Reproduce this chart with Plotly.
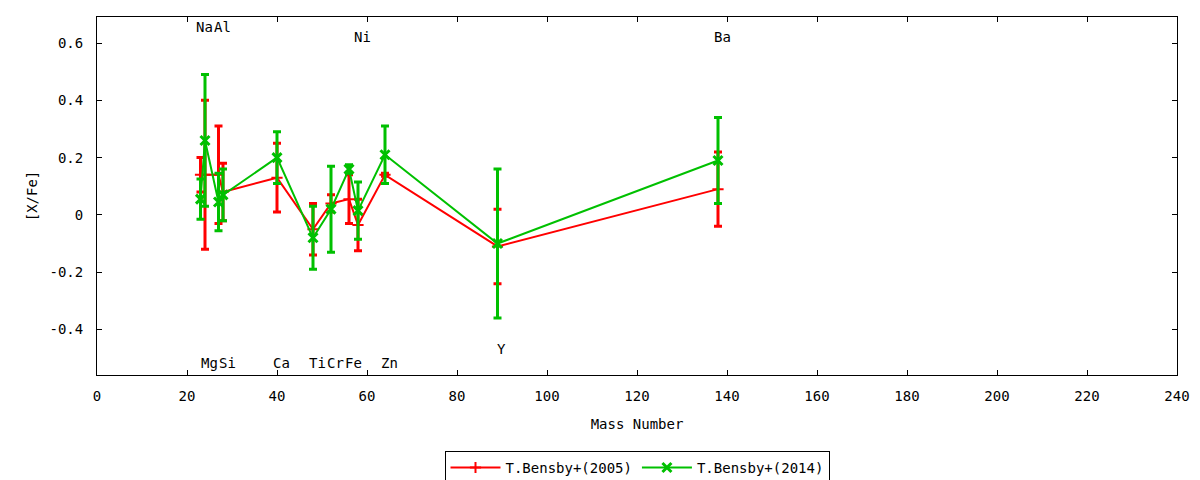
import plotly.graph_objects as go

# element, mass number, [X/Fe] values
elements = ["Na", "Mg", "Al", "Si", "Ca", "Ti", "Cr", "Fe", "Ni", "Zn", "Y", "Ba"]
mass = [23, 24, 27, 28, 40, 48, 52, 56, 58, 64, 89, 138]

bensby2005 = [0.14, 0.14, 0.14, 0.08, 0.13, -0.05, 0.04, 0.055, -0.035, 0.14, -0.11, 0.09]
bensby2005_err = [0.06, 0.26, 0.17, 0.10, 0.12, 0.09, 0.03, 0.085, 0.09, 0.005, 0.13, 0.13]

bensby2014 = [0.055, 0.26, 0.045, 0.07, 0.20, -0.08, 0.02, 0.16, 0.015, 0.21, -0.10, 0.19]
bensby2014_err = [0.07, 0.23, 0.10, 0.09, 0.09, 0.11, 0.15, 0.015, 0.10, 0.10, 0.26, 0.15]

x_ticks = [0, 20, 40, 60, 80, 100, 120, 140, 160, 180, 200, 220, 240]
y_ticks = [-0.4, -0.2, 0, 0.2, 0.4, 0.6]
y_ticktext = ["-0.4", "-0.2", "0", "0.2", "0.4", "0.6"]

# where the element names sit (top / bottom of the frame)
label_level = {"Na": 0.657, "Al": 0.657, "Ni": 0.622, "Ba": 0.622, "Y": -0.469}
label_default = -0.517

FONT = "DejaVu Sans Mono"
RED = "#ff0000"
GREEN = "#00c000"

fig = go.Figure()

fig.add_trace(go.Scatter(
    x=mass, y=bensby2005,
    mode="lines+markers",
    name="T.Bensby+(2005)",
    line=dict(color=RED, width=2),
    marker=dict(symbol="cross-thin", size=8, color=RED, line=dict(color=RED, width=2)),
    error_y=dict(type="data", array=bensby2005_err, visible=True,
                 color=RED, thickness=3, width=4),
))

fig.add_trace(go.Scatter(
    x=mass, y=bensby2014,
    mode="lines+markers",
    name="T.Bensby+(2014)",
    line=dict(color=GREEN, width=2),
    marker=dict(symbol="x-thin", size=9, color=GREEN, line=dict(color=GREEN, width=3)),
    error_y=dict(type="data", array=bensby2014_err, visible=True,
                 color=GREEN, thickness=3, width=4),
))

# element labels
for el, m in zip(elements, mass):
    fig.add_annotation(
        x=m, y=label_level.get(el, label_default),
        text=el, showarrow=False, xshift=4,
        font=dict(family=FONT, size=14, color="black"),
    )

fig.update_layout(
    width=1200, height=480,
    margin=dict(l=97, r=23, t=17, b=105, autoexpand=False),
    plot_bgcolor="white",
    paper_bgcolor="white",
    font=dict(family=FONT, size=14, color="black"),
    showlegend=True,
    legend=dict(
        orientation="h",
        x=0.5, xanchor="center",
        y=-0.212, yanchor="top",
        bordercolor="black", borderwidth=1,
        font=dict(family=FONT, size=14),
        itemwidth=50,
    ),
)

fig.update_xaxes(
    range=[0, 240],
    tickvals=x_ticks,
    ticks="inside", ticklen=5, tickcolor="black",
    tickfont=dict(family=FONT, size=14),
    showline=True, linecolor="black", linewidth=1, mirror="ticks",
    showgrid=False, zeroline=False, automargin=False,
    ticklabelstandoff=8,
    title=dict(text="Mass Number", standoff=16, font=dict(family=FONT, size=14)),
)

fig.update_yaxes(
    range=[-0.559, 0.691],
    tickvals=y_ticks, ticktext=y_ticktext,
    ticks="inside", ticklen=5, tickcolor="black",
    tickfont=dict(family=FONT, size=14),
    showline=True, linecolor="black", linewidth=1, mirror="ticks",
    showgrid=False, zeroline=False, automargin=False,
    ticklabelstandoff=10,
    title=dict(text="[X/Fe]", standoff=8, font=dict(family=FONT, size=14)),
)

# the page's default body margin would push the 1200x480 figure off by 8px
fig.write_html(
    "out.html",
    config={"displayModeBar": False},
    post_script="document.body.style.margin = '0';",
)
